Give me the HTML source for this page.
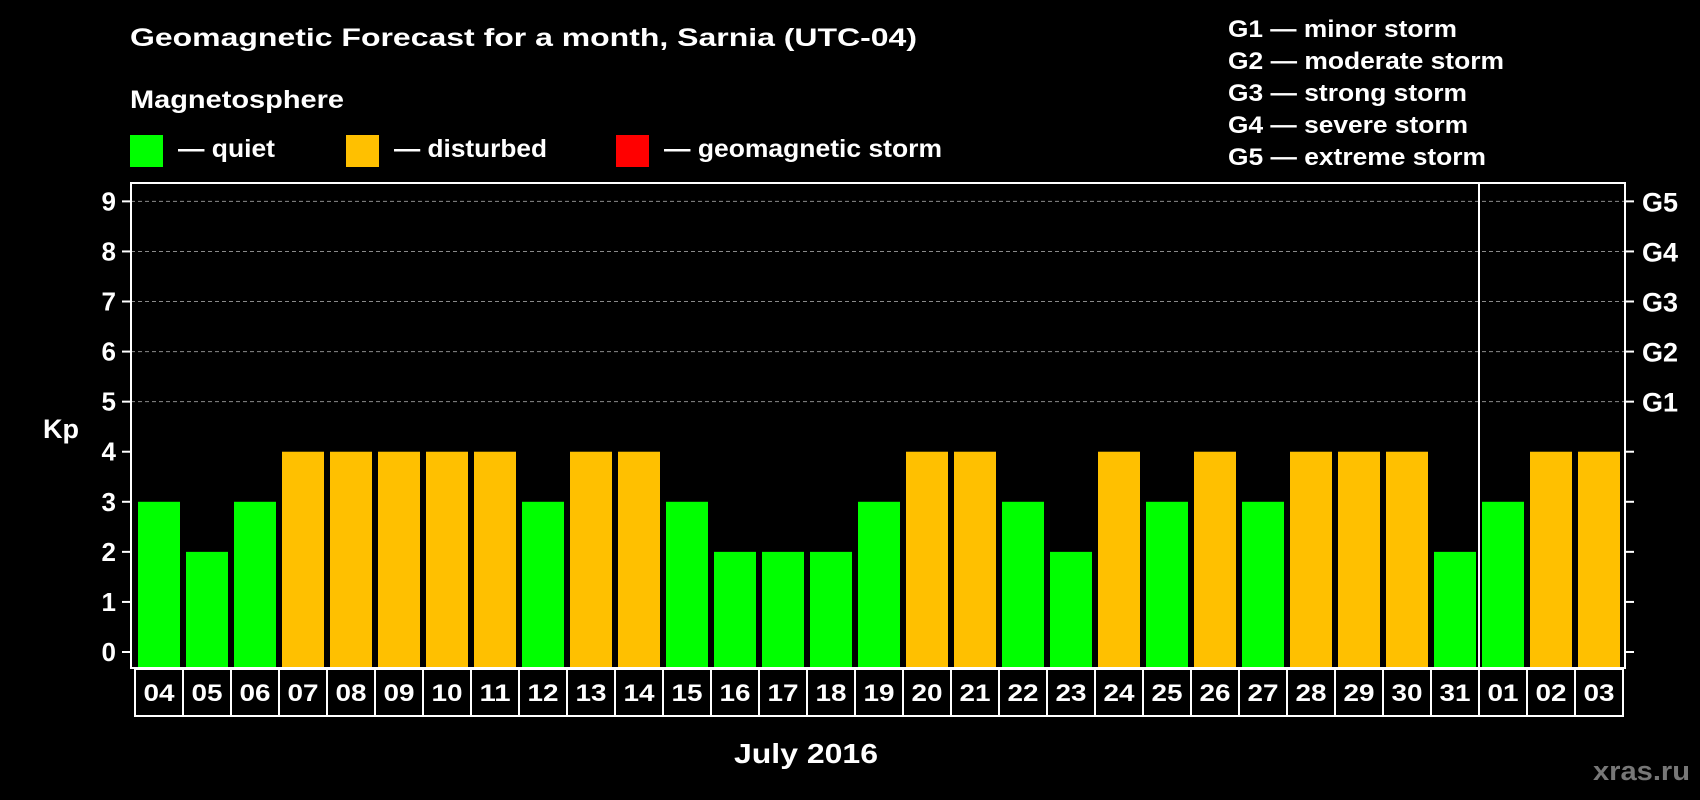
<!DOCTYPE html>
<html><head><meta charset="utf-8"><style>
html,body{margin:0;padding:0;background:#000;}
svg{display:block;font-family:"Liberation Sans",Arial,sans-serif;font-weight:bold;}
</style></head><body>
<svg id="chart" width="1700" height="800" viewBox="0 0 1700 800" xmlns="http://www.w3.org/2000/svg">
<rect width="1700" height="800" fill="#000"/>
<text x="130" y="46" font-size="25" fill="#fff" textLength="787" lengthAdjust="spacingAndGlyphs">Geomagnetic Forecast for a month, Sarnia (UTC-04)</text>
<text x="130" y="108" font-size="25" fill="#fff" textLength="214" lengthAdjust="spacingAndGlyphs">Magnetosphere</text>
<g>
<rect x="130" y="135" width="33" height="32" fill="#00ff00"/>
<text x="178" y="157" font-size="25" fill="#fff" textLength="97" lengthAdjust="spacingAndGlyphs">— quiet</text></g>
<g>
<rect x="346" y="135" width="33" height="32" fill="#ffc000"/>
<text x="394" y="157" font-size="25" fill="#fff" textLength="153" lengthAdjust="spacingAndGlyphs">— disturbed</text></g>
<g>
<rect x="616" y="135" width="33" height="32" fill="#ff0000"/>
<text x="664" y="157" font-size="25" fill="#fff" textLength="278" lengthAdjust="spacingAndGlyphs">— geomagnetic storm</text></g>
<g font-size="24" fill="#fff">
<text x="1228" y="37" textLength="229" lengthAdjust="spacingAndGlyphs">G1 — minor storm</text>
<text x="1228" y="69" textLength="276" lengthAdjust="spacingAndGlyphs">G2 — moderate storm</text>
<text x="1228" y="101" textLength="239" lengthAdjust="spacingAndGlyphs">G3 — strong storm</text>
<text x="1228" y="133" textLength="240" lengthAdjust="spacingAndGlyphs">G4 — severe storm</text>
<text x="1228" y="165" textLength="258" lengthAdjust="spacingAndGlyphs">G5 — extreme storm</text>
</g>
<g id="grid"></g>
<g id="bars"></g>
<g id="axes"></g>
<text x="43" y="438" font-size="27" fill="#fff">Kp</text>
<text x="734" y="763" font-size="28" fill="#fff" textLength="144" lengthAdjust="spacingAndGlyphs">July 2016</text>
<text x="1593" y="780" font-size="27" fill="#777" textLength="97" lengthAdjust="spacingAndGlyphs">xras.ru</text>
</svg>
<script>
const days = ["04","05","06","07","08","09","10","11","12","13","14","15","16","17","18","19","20","21","22","23","24","25","26","27","28","29","30","31","01","02","03"];
const kpValues = [3,2,3,4,4,4,4,4,3,4,4,3,2,2,2,3,4,4,3,2,4,3,4,3,4,4,4,2,3,4,4];
const yTicks = [0,1,2,3,4,5,6,7,8,9];
const gLabels = ["G1","G2","G3","G4","G5"];
const gLevels = [5,6,7,8,9];
const monthBreakIndex = 28;

const NS = "http://www.w3.org/2000/svg";
const plotL = 131, plotR = 1625, plotT = 183, plotB = 668;
const y0 = 652, unit = 50.07;
const barStart = 138, pitch = 48, barW = 42;
function yScale(v){ return y0 - v*unit; }
function xScale(i){ return barStart + i*pitch; }
function mk(tag, attrs, parent){ const e=document.createElementNS(NS,tag); for(const k in attrs) e.setAttribute(k,attrs[k]); parent.appendChild(e); return e; }
const grid=document.getElementById('grid'), bars=document.getElementById('bars'), axes=document.getElementById('axes');

gLevels.forEach(v=>{
  const l=mk('line',{x1:plotL,x2:plotR,y1:yScale(v),y2:yScale(v),stroke:'#8a8a8a','stroke-width':1,'stroke-dasharray':'4 3'},grid);
  
  
});
kpValues.forEach((v,i)=>{
  const c = v>=5?'#ff0000':(v>=4?'#ffc000':'#00ff00');
  const r=mk('rect',{x:xScale(i),y:yScale(v),width:barW,height:plotB-yScale(v),fill:c},bars);
  
  
});
const frame=mk('rect',{x:plotL,y:plotT,width:plotR-plotL,height:plotB-plotT,fill:'none',stroke:'#fff','stroke-width':2},axes);


const dx = xScale(monthBreakIndex)-3;
const div=mk('line',{x1:dx,x2:dx,y1:plotT,y2:plotB,stroke:'#fff','stroke-width':2},axes);


yTicks.forEach(v=>{
  const y=yScale(v);
  mk('line',{x1:122,x2:plotL,y1:y,y2:y,stroke:'#fff','stroke-width':2},axes);
  mk('line',{x1:plotR,x2:1634,y1:y,y2:y,stroke:'#fff','stroke-width':2},axes);
  const t=mk('text',{x:116,y:y+9,'font-size':26,fill:'#fff','text-anchor':'end'},axes);
  t.textContent=v;
  
  
});
gLabels.forEach((g,i)=>{
  const t=mk('text',{x:1642,y:yScale(gLevels[i])+10,'font-size':27,fill:'#fff'},axes);
  t.textContent=g;
  
  
});
days.forEach((d,i)=>{
  const cx = xScale(i)-3;
  const cell=mk('rect',{x:cx,y:669,width:pitch,height:47,fill:'none',stroke:'#fff','stroke-width':2},axes);
  
  
  const t=mk('text',{x:cx+pitch/2,y:701,'font-size':24,fill:'#fff','text-anchor':'middle',textLength:31,lengthAdjust:'spacingAndGlyphs'},axes);
  t.textContent=d;
  
  
});
</script>
</body></html>
